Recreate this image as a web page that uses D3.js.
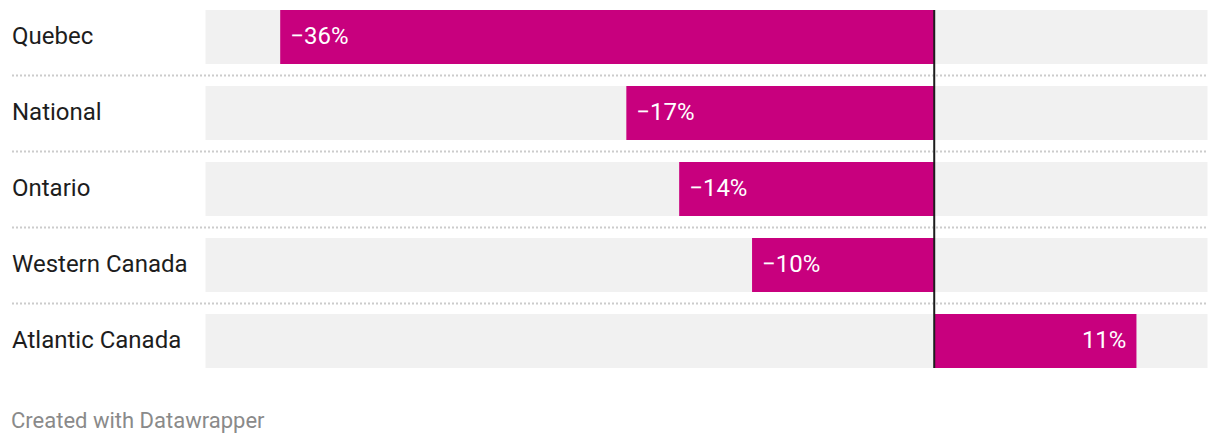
<!DOCTYPE html>
<html><head><meta charset="utf-8">
<script src="https://cdn.jsdelivr.net/npm/d3@7"></script>
<style>
body{margin:0;background:#fff;font-family:Roboto,sans-serif;}
</style></head><body>
<svg id="c" width="1220" height="444"></svg>
<script>
const categories = ["Quebec","National","Ontario","Western Canada","Atlantic Canada"];
const values = [-35.9,-16.9,-14,-10,11.1];
const valueLabels = ["−36%","−17%","−14%","−10%","11%"];
const domainX = [-40,15];

const svg = d3.select("#c");
const x = d3.scaleLinear().domain(domainX).range([205.5,1207.5]);

const g = svg.append("g");
categories.forEach((c,i)=>{
  const top = 10 + i*76;
  g.append("rect").attr("x",x(domainX[0])).attr("y",top).attr("width",x(domainX[1])-x(domainX[0])).attr("height",54).attr("fill","#f1f1f1");
  const v = values[i];
  g.append("rect").attr("x",Math.min(x(0),x(v))).attr("y",top).attr("width",Math.abs(x(v)-x(0))).attr("height",54).attr("fill","#c8007e");
  g.append("text").attr("x",12).attr("y",top+34).attr("font-size",24).attr("fill","#1d1d1d").text(c);
  const t = g.append("text").attr("y",top+34).attr("font-size",24).attr("fill","#fff").text(valueLabels[i]);
  if(v<0) t.attr("x",x(v)+10).attr("text-anchor","start");
  else t.attr("x",x(v)-10).attr("text-anchor","end");
  if(i<categories.length-1){
    g.append("line").attr("x1",12).attr("x2",1208).attr("y1",top+65.5).attr("y2",top+65.5)
      .attr("stroke","#cccccc").attr("stroke-width",2).attr("stroke-dasharray","2,2");
  }
});
g.append("line").attr("x1",x(0)).attr("x2",x(0)).attr("y1",10).attr("y2",368).attr("stroke","#1d1d1d").attr("stroke-width",2);

svg.append("text").attr("x",11).attr("y",428).attr("font-size",22).attr("fill","#8a8a8a").text("Created with Datawrapper");
</script>
</body></html>
